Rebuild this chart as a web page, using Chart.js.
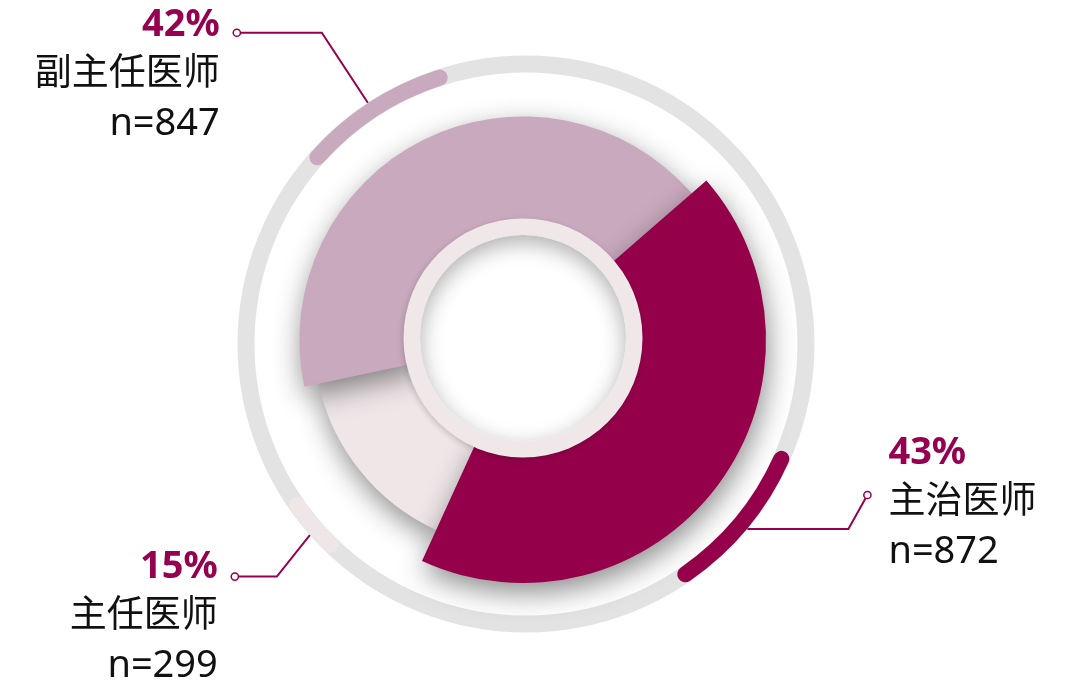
<!DOCTYPE html>
<html>
<head>
<meta charset="utf-8">
<script src="https://cdn.jsdelivr.net/npm/chart.js@4.4.1/dist/chart.umd.min.js"></script>
<style>
html,body{margin:0;padding:0;background:#fff;overflow:hidden}
#wrap{width:1080px;height:681px;position:relative}
</style>
</head>
<body>
<div id="wrap"><canvas id="c" width="1080" height="681"></canvas></div>
<script>
// ---- data ----
const categories = ['主治医师', '主任医师', '副主任医师'];
const counts = [872, 299, 847];
const percentLabels = ['43%', '15%', '42%'];

// ---- styles ----
const segmentColors = ['#95004b', '#efe6e8', '#c9a9be'];
const highlightColors = ['#95004b', '#efe6e8', '#c9a9be'];
const segmentRadiusScale = [1, 0.86, 0.92];
const accent = '#950050';
const labelLayout = [
  { side: 'right', anchorShift: 3.1, hlShift: 3, path: [[101, 0], [19, -34]], textDx: 21, textDy: -31 },
  { side: 'left', anchorShift: -2.7, hlShift: -1.6, path: [[-33, 41.5], [-42, 0]], textDx: -17, textDy: 1 },
  { side: 'left', anchorShift: -6.7, hlShift: -6.5, path: [[-46, -70], [-85, 0]], textDx: -17, textDy: 3 }
];
const lineGaps = [0, 49, 99];
const RING = { dx: 3, dy: 4, r: 280, width: 17 };
const INNER = { dx: 0, dy: -2, rOuter: 119.5, rInner: 103 };
const DEG = Math.PI / 180;

const decoPlugin = {
  id: 'deco',
  afterDatasetsUpdate(chart) {
    const meta = chart.getDatasetMeta(0);
    meta.data.forEach((el, i) => { el.outerRadius = el.outerRadius * segmentRadiusScale[i]; });
  },
  beforeDatasetsDraw(chart) {
    const ctx = chart.ctx;
    const meta = chart.getDatasetMeta(0);
    const el0 = meta.data[0];
    const rcx = el0.x + RING.dx, rcy = el0.y + RING.dy;
    ctx.save();
    ctx.beginPath();
    ctx.arc(rcx, rcy, RING.r, 0, Math.PI * 2);
    ctx.strokeStyle = '#e3e3e3';
    ctx.lineWidth = RING.width;
    ctx.stroke();
    meta.data.forEach((el, i) => {
      const mid = (el.startAngle + el.endAngle) / 2 + labelLayout[i].hlShift * DEG;
      const half = (el.endAngle - el.startAngle) * 0.1;
      ctx.beginPath();
      ctx.arc(rcx, rcy, RING.r, mid - half, mid + half);
      ctx.strokeStyle = highlightColors[i];
      ctx.lineWidth = RING.width - 1;
      ctx.lineCap = 'round';
      ctx.stroke();
    });
    ctx.restore();
  },
  beforeDatasetDraw(chart, args) {
    const ctx = chart.ctx;
    const meta = args.meta;
    const order = meta.data.map((el, i) => i).sort((a, b) => segmentRadiusScale[a] - segmentRadiusScale[b]);
    ctx.save();
    ctx.shadowColor = 'rgba(0,0,0,0.45)';
    ctx.shadowBlur = 28;
    ctx.shadowOffsetX = 2;
    ctx.shadowOffsetY = 10;
    order.forEach(i => meta.data[i].draw(ctx));
    ctx.restore();

    const el0 = meta.data[0];
    const icx = el0.x + INNER.dx, icy = el0.y + INNER.dy;
    ctx.save();
    ctx.shadowColor = 'rgba(0,0,0,0.18)';
    ctx.shadowBlur = 6;
    ctx.shadowOffsetX = -1;
    ctx.shadowOffsetY = 2;
    ctx.beginPath();
    ctx.arc(icx, icy, INNER.rOuter, 0, Math.PI * 2);
    ctx.fillStyle = '#efe7e8';
    ctx.fill();
    ctx.restore();
    ctx.save();
    ctx.beginPath();
    ctx.arc(icx, icy, INNER.rInner, 0, Math.PI * 2);
    ctx.fillStyle = '#ffffff';
    ctx.fill();
    ctx.clip();
    ctx.beginPath();
    ctx.rect(icx - INNER.rInner - 200, icy - INNER.rInner - 200, INNER.rInner * 2 + 400, INNER.rInner * 2 + 400);
    ctx.arc(icx, icy, INNER.rInner, 0, Math.PI * 2, true);
    ctx.shadowColor = 'rgba(0,0,0,0.32)';
    ctx.shadowBlur = 22;
    ctx.shadowOffsetY = 7;
    ctx.fillStyle = '#ffffff';
    ctx.fill();
    ctx.restore();
    return false;
  },
  afterDraw(chart) {
    const ctx = chart.ctx;
    const meta = chart.getDatasetMeta(0);
    const el0 = meta.data[0];
    const rcx = el0.x + RING.dx, rcy = el0.y + RING.dy;
    const R = RING.r + RING.width / 2;
    meta.data.forEach((el, i) => {
      const L = labelLayout[i];
      const a = (el.startAngle + el.endAngle) / 2 + L.anchorShift * DEG;
      let x = rcx + R * Math.cos(a), y = rcy + R * Math.sin(a);
      ctx.save();
      ctx.strokeStyle = accent;
      ctx.lineWidth = 2;
      ctx.beginPath();
      ctx.moveTo(x, y);
      L.path.forEach(([dx, dy]) => { x += dx; y += dy; ctx.lineTo(x, y); });
      ctx.stroke();
      ctx.beginPath();
      ctx.arc(x, y, 3.6, 0, Math.PI * 2);
      ctx.fillStyle = '#fff';
      ctx.fill();
      ctx.lineWidth = 1.5;
      ctx.stroke();

      const tx = x + L.textDx, ty = y + L.textDy;
      ctx.textAlign = L.side === 'left' ? 'right' : 'left';
      ctx.textBaseline = 'alphabetic';
      ctx.fillStyle = accent;
      ctx.font = 'bold 38px "Noto Sans", "Noto Sans CJK SC", sans-serif';
      ctx.fillText(percentLabels[i], tx, ty + lineGaps[0]);
      ctx.fillStyle = '#111';
      ctx.font = '37px "Noto Sans CJK SC", sans-serif';
      ctx.fillText(categories[i], tx, ty + lineGaps[1]);
      ctx.font = '38px "Noto Sans", "Noto Sans CJK SC", sans-serif';
      ctx.fillText('n=' + counts[i], tx, ty + lineGaps[2]);
      ctx.restore();
    });
  }
};

new Chart(document.getElementById('c'), {
  type: 'doughnut',
  data: {
    labels: categories,
    datasets: [{
      data: counts,
      backgroundColor: segmentColors,
      borderWidth: 0
    }]
  },
  options: {
    responsive: false,
    devicePixelRatio: 1,
    animation: false,
    events: [],
    rotation: 49,
    radius: 243,
    cutout: '45%',
    layout: { padding: { left: 0, right: 34, top: 0, bottom: 1 } },
    plugins: { legend: { display: false }, tooltip: { enabled: false } }
  },
  plugins: [decoPlugin]
});
</script>
</body>
</html>
